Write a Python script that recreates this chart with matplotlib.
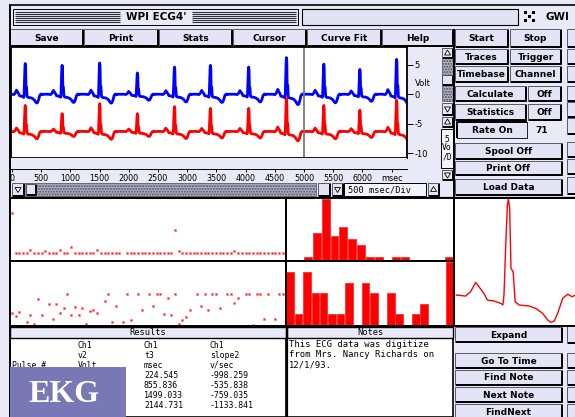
import matplotlib
matplotlib.use("Agg")
import matplotlib.pyplot as plt
from matplotlib.patches import Rectangle, Polygon

W, H = 575, 417
BG = "#e9e9f8"
BTN = "#e4e4f6"
TRACK = "#b0b0c4"
plt.rcParams["font.family"] = ["DejaVu Sans"]

# ---------------- data ----------------
# R-peak times (msec); the first four are the t3 column of the results table
t3_ms = [224.545, 855.836, 1499.033, 2144.731]
slope2_vs = [-998.259, -535.838, -759.035, -1133.841]
r_peak_ms = t3_ms + [2780, 3395, 4050, 4697, 5337, 5954, 6583]
# R-wave height above baseline for every beat (Volt)
ch1_r_volt = [5.2, 4.9, 5.3, 3.6, 4.6, 4.9, 4.6, 6.2, 5.1, 4.2, 5.9]
ch2_r_volt = [4.4, 3.0, 4.7, 3.0, 4.2, 3.9, 3.9, 5.6, 4.4, 3.6, 5.3]
ch1_base = 0.0
ch2_base = -6.3

# averaged beat (right hand panel): msec from R peak, fraction of R height
beat_ms = [-236, -193, -170, -147, -132, -109, -93, -63, -32, -22, -17, -9, -1.5, 3,
           9, 15, 25, 34, 52, 98, 129, 160, 183, 198, 213, 229, 252, 275, 294, 313]
beat_amp = [0.0, -0.011, 0.034, 0.132, 0.087, 0.017, -0.053, -0.062, -0.087, -0.104,
            0.0, 0.521, 0.938, 1.0, 0.904, 0.277, 0.243, -0.070, -0.104, -0.115,
            -0.140, -0.191, -0.260, -0.285, -0.272, -0.191, -0.034, 0.008, -0.017, 0.0]

# per pulse measurements (two scatter strips)
pulse_no = list(range(74))
strip1_vals = [47.3, 8.3, 8.3, 8.3, 8.3, 10.7, 8.3, 8.3, 8.3, 10.0,
               8.3, 8.3, 8.3, 11.0, 8.3, 8.3, 14.3, 8.3, 8.3, 8.3,
               8.3, 8.3, 8.3, 11.0, 8.3, 8.3, 8.3, 8.3, 8.0, 8.3,
               float("nan"), 8.3, 8.3, 8.3, 8.3, 8.3, 8.3, 8.3, 8.3, 8.3,
               8.3, 8.3, 8.3, 8.3, 30.7, 10.0, 8.3, 8.3, 8.3, 8.3,
               8.3, 8.3, 8.3, 8.3, 8.3, 8.3, 8.3, 8.3, 8.3, 8.3,
               10.0, 8.3, 8.3, 8.3, 8.3, 8.3, 8.3, 8.3, 8.3, 8.3,
               8.3, 8.3, 8.3, 8.3]
strip2_no = [0, 1, 2, 4, 5, 6, 7, 8, 10, 11, 12, 13, 14, 15, 16, 17, 18, 19, 20, 21,
             22, 23, 25, 26, 27, 28, 30, 31, 32, 34, 35, 37, 38, 39, 40, 41, 42, 43,
             44, 45, 46, 47, 48, 50, 51, 52, 53, 54, 55, 56, 58, 59, 60, 61, 63, 64,
             65, 66, 67, 68, 69, 71, 72, 73]
strip2_vals = [12.7, 10.3, 14.3, 4.3, 10.7, 2.3, 26.3, 10.7, 21.7, 7.0, 21.7, 12.7,
               18.0, 31.7, 10.7, 19.0, 10.7, 18.0, 2.3, 15.0, 16.0, 12.7, 24.3, 31.7,
               4.3, 20.0, 4.3, 31.7, 6.0, 31.7, 16.3, 31.7, 20.0, 31.7, 31.7, 11.7,
               28.0, 10.7, 31.7, 2.3, 6.0, 8.7, 16.3, 31.7, 20.0, 31.7, 16.3, 31.7,
               31.7, 18.0, 31.7, 31.7, 22.7, 27.3, 31.7, 31.7, 1.3, 31.7, 31.7, 7.0,
               31.7, 7.0, 31.7, 31.7]

hist_top = [0, 0, 1, 9, 20, 8, 11, 7, 5, 1, 1, 0, 1, 1, 0, 0, 0, 0, 1]
hist_bot = [5, 1, 5, 3, 3, 1, 1, 4, 0, 4, 3, 0, 3, 1, 0, 1, 2, 0, 0, 6]

time_ticks = [0, 500, 1000, 1500, 2000, 2500, 3000, 3500, 4000, 4500, 5000, 5500, 6000, 6500]
time_labels = ["0", "500", "1000", "1500", "2000", "2500", "3000", "3500", "4000",
               "4500", "5000", "5500", "6000", "msec"]
volt_ticks = [5, 0, -5, -10]
volt_labels = ["5", "0", "-5", "-10"]
cursor_ms = 5000

notes = ["This ECG data was digitize", "from Mrs. Nancy Richards on", "12/1/93."]


# ---------------- helpers ----------------
def box(x0, y0, x1, y1):
    return [x0 / W, 1 - y1 / H, (x1 - x0) / W, (y1 - y0) / H]


fig = plt.figure(figsize=(W / 100, H / 100), dpi=100)
fig.patch.set_facecolor(BG)
ui = fig.add_axes([0, 0, 1, 1])
ui.set_xlim(0, W)
ui.set_ylim(H, 0)
ui.axis("off")


def rect(x0, y0, x1, y1, fc, ec="none", lw=0, z=1, **kw):
    ui.add_patch(Rectangle((x0, y0), x1 - x0, y1 - y0, facecolor=fc, edgecolor=ec,
                           linewidth=lw, zorder=z, **kw))


def line(xs, ys, lw=0.8, c="black", z=3):
    ui.plot(xs, ys, color=c, lw=lw, zorder=z, solid_capstyle="butt")


def button(x0, y0, x1, y1, label="", fs=6.5):
    rect(x0, y0, x1, y1, BTN, ec="#404050", lw=0.6, z=2)
    line([x0 + 1, x1, x1], [y1, y1, y0 + 1], lw=1.4, z=3)
    if label:
        ui.text((x0 + x1) / 2, (y0 + y1) / 2 + 0.5, label, ha="center", va="center",
                fontsize=fs, fontweight="bold", zorder=4)


def arrow_button(x0, y0, x1, y1, up=True):
    button(x0, y0, x1, y1)
    cx, cy = (x0 + x1) / 2, (y0 + y1) / 2
    if up:
        pts = [(cx - 3, cy + 2), (cx + 3, cy + 2), (cx, cy - 3)]
    else:
        pts = [(cx - 3, cy - 2), (cx + 3, cy - 2), (cx, cy + 3)]
    ui.add_patch(Polygon(pts, closed=True, facecolor="white", edgecolor="black",
                         linewidth=0.6, zorder=5))


def track(x0, y0, x1, y1):
    rect(x0, y0, x1, y1, TRACK, ec="#505060", lw=0.5, z=2, hatch="......")


# ---------------- title bar ----------------
line([9, 575], [5, 5], lw=1.2)
line([9.5, 9.5], [5, 417], lw=1.4)
rect(13, 9, 298, 25, BG, ec="black", lw=0.7, z=2)
for yy in [11.5, 13.5, 15.5, 17.5, 19.5, 21.5]:
    line([15, 120], [yy, yy], lw=0.8, c="#303040")
    line([192, 296], [yy, yy], lw=0.8, c="#303040")
ui.text(156, 17, "WPI ECG4'", ha="center", va="center", fontsize=7.5,
        fontweight="bold", zorder=4)
rect(302, 9, 518, 25, "#e2e2f4", ec="black", lw=0.8, z=2)
for i in range(3):
    for j in range(3):
        if (i + j) % 2 == 0:
            rect(524 + 4 * i, 11 + 4 * j, 527 + 4 * i, 14 + 4 * j, "black", z=3)
ui.text(545, 17, "GWI", ha="left", va="center", fontsize=7.5, fontweight="bold", zorder=4)

# ---------------- top buttons ----------------
for x0, x1, lab in [(10, 83, "Save"), (84, 158, "Print"), (159, 232, "Stats"),
                    (233, 306, "Cursor"), (307, 381, "Curve Fit"), (382, 453, "Help")]:
    button(x0, 29, x1, 46, lab)
line([454, 454], [29, 197], lw=1.4)

right_buttons = [
    (455, 29, 508, 47, "Start"), (510, 29, 561, 47, "Stop"),
    (455, 49, 508, 64, "Traces"), (510, 49, 561, 64, "Trigger"),
    (455, 66, 508, 82, "Timebase"), (510, 66, 561, 82, "Channel"),
    (455, 86, 526, 101, "Calculate"), (528, 86, 561, 101, "Off"),
    (455, 104, 526, 120, "Statistics"), (528, 104, 561, 120, "Off"),
    (455, 143, 562, 159, "Spool Off"), (455, 161, 562, 175, "Print Off"),
    (455, 179, 562, 195, "Load Data"),
    (455, 327, 562, 342, "Expand"), (455, 353, 562, 368, "Go To Time"),
    (455, 370, 562, 385, "Find Note"), (455, 387, 562, 402, "Next Note"),
    (455, 404, 562, 420, "FindNext"),
]
for x0, y0, x1, y1, lab in right_buttons:
    button(x0, y0, x1, y1, lab)
# sunken rate field
rect(457, 122, 527, 138, BTN, ec="black", lw=0.6, z=2)
line([457, 457, 527], [138, 122, 122], lw=1.4)
ui.text(492, 130.5, "Rate On", ha="center", va="center", fontsize=6.5,
        fontweight="bold", zorder=4)
ui.text(542, 130.5, "71", ha="center", va="center", fontsize=6.5, fontweight="bold", zorder=4)
# partially hidden column at the far right
for y0, y1 in [(29, 47), (49, 64), (66, 82), (86, 101), (102, 117), (118, 134), (142, 157),
               (159, 174), (177, 194), (325, 343), (353, 368), (370, 385), (387, 402),
               (404, 420)]:
    button(567, y0, 600, y1)

# ---------------- main trace plot ----------------
ch1_t, ch1_v, ch2_t, ch2_v = [], [], [], []
for r, a1, a2 in zip(r_peak_ms, ch1_r_volt, ch2_r_volt):
    for bt, bv in zip(beat_ms, beat_amp):
        ch1_t.append(r + bt)
        ch1_v.append(ch1_base + a1 * bv)
        ch2_t.append(r + bt)
        ch2_v.append(ch2_base + a2 * bv)

ax = fig.add_axes(box(10.5, 47, 407, 158))
ax.set_facecolor("white")
ax.plot(ch1_t, ch1_v, color="#0000ff", lw=2.0)
ax.plot(ch2_t, ch2_v, color="#ff0000", lw=2.0)
ax.axvline(cursor_ms, color="#7a7a7a", lw=1.3)
ax.set_xlim(-25, 6764)
ax.set_ylim(-10.8, 8.0)
ax.set_xticks([])
ax.yaxis.tick_right()
ax.set_yticks(volt_ticks)
ax.set_yticklabels(volt_labels)
ax.tick_params(axis="y", length=4, width=0.7, pad=1.5, labelsize=6)
for s in ax.spines.values():
    s.set_linewidth(1.3)
ui.text(415, 83, "Volt", ha="left", va="center", fontsize=6, zorder=4)

# time scale under the plot
tx = fig.add_axes(box(10.5, 158, 407, 169))
tx.set_facecolor(BG)
tx.set_xlim(-25, 6764)
tx.set_yticks([])
tx.set_xticks(time_ticks)
tx.set_xticklabels(time_labels)
tx.tick_params(axis="x", length=2.5, width=0.7, pad=0.8, labelsize=5.8)
for k in ["top", "left", "right"]:
    tx.spines[k].set_visible(False)
tx.spines["bottom"].set_linewidth(0.7)

# horizontal scroll bar and timebase field
track(24, 183, 316, 196)
arrow_button(12, 183, 24, 196, up=False)
button(26, 184, 36, 195)
button(318, 183, 330, 196)
arrow_button(332, 183, 343, 196, up=False)
rect(344, 183, 426, 196, "#f4f4fc", ec="black", lw=0.7, z=2)
ui.text(348, 190, "500 msec/Div", ha="left", va="center", fontsize=6.2,
        family="DejaVu Sans Mono", zorder=4)
arrow_button(428, 183, 439, 196, up=True)

# vertical scroll bar and volts/div field
track(442, 58, 453, 101)
arrow_button(442, 48, 453, 58, up=True)
button(442, 75, 453, 85)
arrow_button(442, 103, 453, 115, up=False)
arrow_button(442, 117, 453, 127, up=True)
rect(441, 129, 453, 168, "#f4f4fc", ec="black", lw=0.7, z=2)
ui.text(447, 148, "5\nVo\n/D", ha="center", va="center", fontsize=5.8,
        family="DejaVu Sans Mono", linespacing=0.95, zorder=4)
arrow_button(442, 170, 453, 180, up=False)

# ---------------- lower panels ----------------
line([9, 575], [197.5, 197.5], lw=1.6)
dot = dict(ls="none", marker="s", ms=2.0, color="#ff1010", mec="#ff8c8c", mew=0.5)

s1 = fig.add_axes(box(10, 198, 286, 261))
s1.plot(pulse_no, strip1_vals, **dot)
s1.set_xlim(-0.5, 73.9)
s1.set_ylim(0, 62.3)
s2 = fig.add_axes(box(10, 261, 286, 326))
s2.plot(strip2_no, strip2_vals, **dot)
s2.set_xlim(-0.5, 73.9)
s2.set_ylim(0, 64.3)

h1 = fig.add_axes(box(286, 198, 454, 261))
h1.bar(range(len(hist_top)), hist_top, width=0.9, align="edge", color="#ff0000",
       edgecolor="#ff3a3a", lw=0.7)
h1.set_xlim(-0.05, len(hist_top))
h1.set_ylim(-0.35, 20.4)
h2 = fig.add_axes(box(286, 261, 454, 326))
h2.bar(range(len(hist_bot)), hist_bot, width=0.9, align="edge", color="#ff0000",
       edgecolor="#ff3a3a", lw=0.7)
h2.set_xlim(-0.05, len(hist_bot))
h2.set_ylim(-0.1, 6.05)

bp = fig.add_axes(box(454, 198, 578, 326))
bp.plot(beat_ms, beat_amp, color="#ff0000", lw=1.0)
bp.set_xlim(-246, 322)
bp.set_ylim(-0.323, 1.011)

for a in [s1, s2, h1, h2, bp]:
    a.set_facecolor("white")
    a.set_xticks([])
    a.set_yticks([])
    for s in a.spines.values():
        s.set_linewidth(1.4)

# ---------------- results / notes ----------------
rect(10, 327, 286, 417, "white", ec="black", lw=1.2, z=2)
rect(10, 327, 286, 338, BG, ec="black", lw=1.0, z=2)
ui.text(148, 332.8, "Results", ha="center", va="center", fontsize=6.3,
        family="DejaVu Sans Mono", zorder=4)
rect(287, 327, 453, 417, "white", ec="black", lw=1.2, z=2)
rect(287, 327, 453, 338, BG, ec="black", lw=1.0, z=2)
ui.text(370, 332.8, "Notes", ha="center", va="center", fontsize=6.3,
        family="DejaVu Sans Mono", zorder=4)
line([286.5, 286.5], [326, 417], lw=1.6)

mono = dict(ha="left", va="center", fontsize=5.9, family="DejaVu Sans Mono", zorder=4)
rows_y = [345, 355, 365, 375, 385, 395, 405]
ui.text(12, 365, "Pulse #", **mono)
for i, s in enumerate(["Ch1", "v2", "Volt"]):
    ui.text(78, rows_y[i], s, **mono)
for i, s in enumerate(["Ch1", "t3", "msec"] + ["%.3f" % v for v in t3_ms]):
    ui.text(144, rows_y[i], s, **mono)
for i, s in enumerate(["Ch1", "slope2", "v/sec"] + ["%.3f" % v for v in slope2_vs]):
    ui.text(210, rows_y[i], s, **mono)
for i, s in enumerate(notes):
    ui.text(289, 344.5 + 10.3 * i, s, ha="left", va="center", fontsize=6.4,
            family="DejaVu Sans Mono", zorder=4)

rect(10, 367, 126, 418, "#7878b6", z=6)
ui.text(64, 394, "EKG", ha="center", va="center", fontsize=23, fontweight="bold",
        family="Liberation Serif", color="white", zorder=7)

fig.savefig("out.png", dpi=100, facecolor=BG)
